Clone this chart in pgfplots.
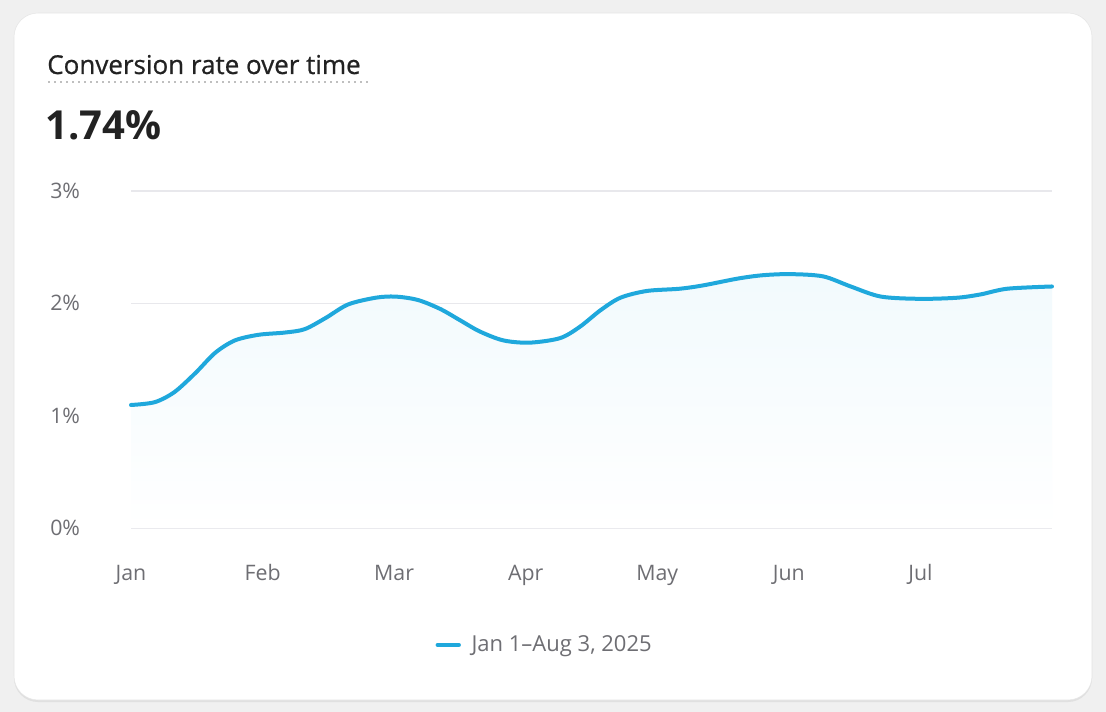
\documentclass[border=0pt]{standalone}
\usepackage{pgfplots}
\pgfplotsset{compat=1.18}
\usepackage{fontspec}
\setmainfont{Open Sans}
\definecolor{lineblue}{RGB}{31,168,220}
\definecolor{txtgray}{RGB}{110,110,115}
\definecolor{darktxt}{RGB}{34,34,34}
\definecolor{bggray}{RGB}{240,240,240}
\definecolor{gridgray}{RGB}{232,232,236}

\pgfplotstableread{
m     v
0.00  1.095
0.18  1.12
0.33  1.21
0.49  1.38
0.64  1.56
0.79  1.67
0.97  1.72
1.17  1.74
1.32  1.77
1.48  1.87
1.65  1.99
1.86  2.05
2.01  2.06
2.18  2.03
2.35  1.95
2.50  1.85
2.65  1.75
2.83  1.67
3.03  1.65
3.26  1.69
3.41  1.79
3.57  1.94
3.72  2.05
3.92  2.11
4.17  2.13
4.35  2.16
4.61  2.22
4.80  2.25
5.01  2.26
5.26  2.24
5.47  2.15
5.70  2.06
6.00  2.04
6.28  2.05
6.46  2.08
6.66  2.13
7.00  2.15
}\convrate

\begin{document}
\begin{tikzpicture}[x=0.75pt,y=-0.75pt]
% page and card
\fill[bggray] (0,0) rectangle (1106,712);
\fill[black!12,rounded corners=18pt] (14,15) rectangle (1092,702);
\filldraw[fill=white,draw=black!10,rounded corners=18pt] (14,13) rectangle (1092,700);

% header
\node[anchor=base west,inner sep=0,text=darktxt,
  font=\fontsize{19.5}{22}\selectfont\addfontfeature{FakeBold=0.7}]
  at (47,74) {Conversion rate over time};
\draw[black!25,line width=1pt,dash pattern=on 1.5pt off 3pt] (48,82) -- (368,82);
\node[anchor=base west,inner sep=0,text=darktxt,font=\fontsize{30}{34}\bfseries\selectfont]
  at (45,140) {1.74\%};

\coordinate (origin) at (131,528);
\begin{axis}[
  at={(origin)}, anchor=south west,
  scale only axis,
  width=921*0.75pt, height=337*0.75pt,
  xmin=0, xmax=7, ymin=0, ymax=3,
  axis line style={draw=none},
  major tick style={draw=none},
  ymajorgrids,
  major grid style={gridgray,line width=1pt},
  ytick={0,1,2,3},
  yticklabels={0\%,1\%,2\%,3\%},
  xtick={0,1,2,3,4,5,6},
  xticklabels={Jan,Feb,Mar,Apr,May,Jun,Jul},
  yticklabel style={anchor=west,inner sep=0pt,xshift=-81*0.75pt,
    text=txtgray,font=\fontsize{16}{18}\selectfont},
  xticklabel style={anchor=base,inner sep=0pt,yshift=-52*0.75pt,
    text=txtgray,font=\fontsize{16}{18}\selectfont},
  legend style={at={(0.4495,-0.347)},anchor=center,draw=none,fill=none,
    font=\fontsize{16.5}{18}\selectfont,text=txtgray,
    /tikz/every odd column/.append style={column sep=6pt}},
  legend image code/.code={\draw[lineblue,line width=3pt,line cap=round]
    (0pt,0pt) -- (16pt,0pt);},
  clip=false,
]
\addplot[draw=none,top color=lineblue!6,bottom color=white,smooth,tension=0.5,forget plot]
  table[x=m,y=v]{\convrate} \closedcycle;
\addplot[lineblue,line width=3pt,smooth,tension=0.5,line cap=round]
  table[x=m,y=v]{\convrate};
\addlegendentry{Jan 1–Aug 3, 2025}
\end{axis}
\end{tikzpicture}
\end{document}
